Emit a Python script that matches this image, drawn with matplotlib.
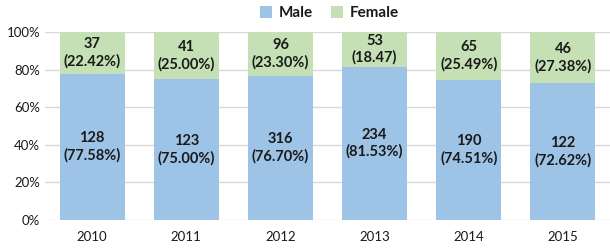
import matplotlib
matplotlib.use("Agg")
import matplotlib.pyplot as plt
from matplotlib.ticker import PercentFormatter

YEARS = ["2010", "2011", "2012", "2013", "2014", "2015"]
MALE_N = [128, 123, 316, 234, 190, 122]
FEMALE_N = [37, 41, 96, 53, 65, 46]
MALE_PCT = [77.58, 75.00, 76.70, 81.53, 74.51, 72.62]
FEMALE_PCT = [22.42, 25.00, 23.30, 18.47, 25.49, 27.38]
# the 2013 female label has no "%" sign in the original
FEMALE_SUFFIX = ["%", "%", "%", "", "%", "%"]

C_MALE, C_FEMALE = "#9DC3E6", "#C5E0B4"

plt.rcParams.update({"font.family": "Lato", "text.color": "#1a1a1a"})
fig = plt.figure(figsize=(6.1, 2.48), dpi=100)
ax = fig.add_axes([45 / 610, 28 / 248, 1 - 45 / 610, 188 / 248])

x = range(len(YEARS))
ax.bar(x, MALE_PCT, width=0.69, color=C_MALE, label="Male", zorder=2)
ax.bar(x, FEMALE_PCT, width=0.69, bottom=MALE_PCT, color=C_FEMALE,
       label="Female", zorder=2)

for i in x:
    ax.text(i, MALE_PCT[i] / 2, f"{MALE_N[i]}\n({MALE_PCT[i]:.2f}%)",
            ha="center", va="center", fontsize=10.5, fontweight="bold",
            linespacing=1.25, zorder=3)
    ax.text(i, MALE_PCT[i] + FEMALE_PCT[i] / 2,
            f"{FEMALE_N[i]}\n({FEMALE_PCT[i]:.2f}{FEMALE_SUFFIX[i]})",
            ha="center", va="center", fontsize=10.5, fontweight="bold",
            linespacing=1.25, zorder=3)

ax.set_xlim(-0.5, len(YEARS) - 0.5)
ax.set_ylim(0, 100)
ax.set_yticks(range(0, 101, 20))
ax.yaxis.set_major_formatter(PercentFormatter(decimals=0))
ax.set_xticks(list(x))
ax.set_xticklabels(YEARS)
ax.tick_params(length=0, labelsize=9.5, colors="#1a1a1a")
ax.tick_params(axis="x", pad=8)
ax.grid(axis="y", color="#D9D9D9", lw=1, zorder=0)
for s in ax.spines.values():
    s.set_visible(False)

leg = fig.legend(loc="upper center", bbox_to_anchor=(0.54, 1.03), ncol=2,
                 frameon=False, prop={"weight": "bold", "size": 11},
                 handlelength=0.8, handleheight=0.8, handletextpad=0.4,
                 columnspacing=1.2)

fig.savefig("out.png", dpi=100)
